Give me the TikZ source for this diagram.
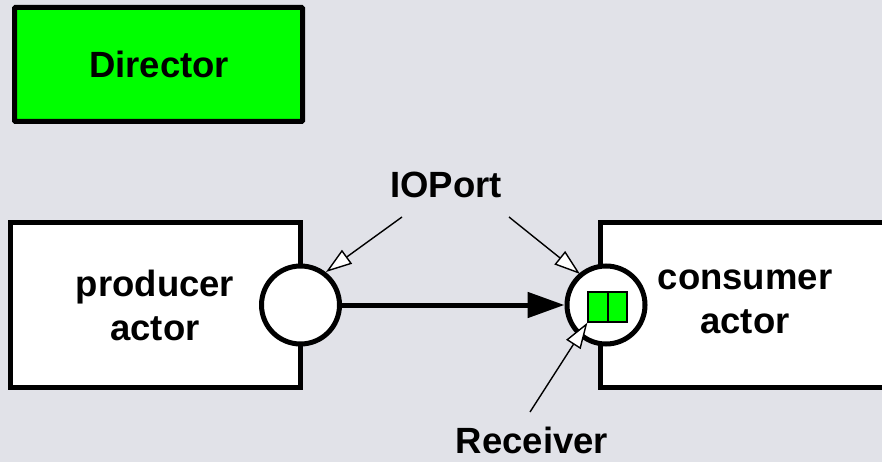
\documentclass[tikz,border=0pt]{standalone}
\usepackage{fontspec}
\setmainfont{Liberation Sans}
\usetikzlibrary{arrows.meta}
\definecolor{bg}{RGB}{225,226,232}
\definecolor{dirgreen}{RGB}{0,255,0}
\tikzset{
  box/.style={draw=black, line width=5pt, fill=white},
  port/.style={draw=black, line width=5pt, fill=white, circle, minimum size=78pt, inner sep=0pt},
  lbl/.style={font=\fontsize{36.5}{44}\selectfont\bfseries, align=center},
  callout/.style={draw=black, line width=1.4pt, -{Triangle[length=26pt,width=17pt,fill=white]}},
  flow/.style={draw=black, line width=5pt, -{Triangle[length=37pt,width=25pt]}}
}
\begin{document}
\begin{tikzpicture}[x=1pt,y=-1pt]
\fill[bg] (0,0) rectangle (882,462);
\useasboundingbox (0,0) rectangle (882,462);
\begin{scope}
\clip (0,0) rectangle (882,462);
% Director
\node[box, fill=dirgreen, minimum width=288pt, minimum height=114pt, inner sep=0pt, rounded corners=1pt] (dir) at (158.5,64.5) {};
\node[lbl] (dirtext) at (159,64) {Director};
% actors
\node[box, minimum width=290pt, minimum height=165pt, inner sep=0pt] (prod) at (155,304.5) {};
\node[box, minimum width=290pt, minimum height=165pt, inner sep=0pt] (cons) at (745,304.5) {};
\node[lbl] (prodtext) at (155,305) {producer\\actor};
\node[lbl] (constext) at (745,302) {consumer\\actor};
% ports
\node[port] (pout) at (300.5,305) {};
\node[port] (pin) at (606,305) {};
% receiver
\node[draw=black, line width=1.2pt, fill=dirgreen, minimum width=20pt, minimum height=30pt, inner sep=0pt] (r1) at (598,307) {};
\node[draw=black, line width=1.2pt, fill=dirgreen, minimum width=19pt, minimum height=30pt, inner sep=0pt] (r2) at (617.5,307) {};
\end{scope}
% flow
\draw[flow] (pout.east) -- (pin.west);
% labels
\node[lbl] (ioport) at (446,185) {IOPort};
\node[lbl] (recv) at (532,440) {Receiver};
\coordinate (io1) at (402,217);
\coordinate (io2) at (509,217);
\coordinate (rc) at (530,412);
\draw[callout] (io1) -- (326,272);
\draw[callout] (io2) -- (580,274);
\draw[callout] (rc) -- (r1.south west);
\end{tikzpicture}
\end{document}
